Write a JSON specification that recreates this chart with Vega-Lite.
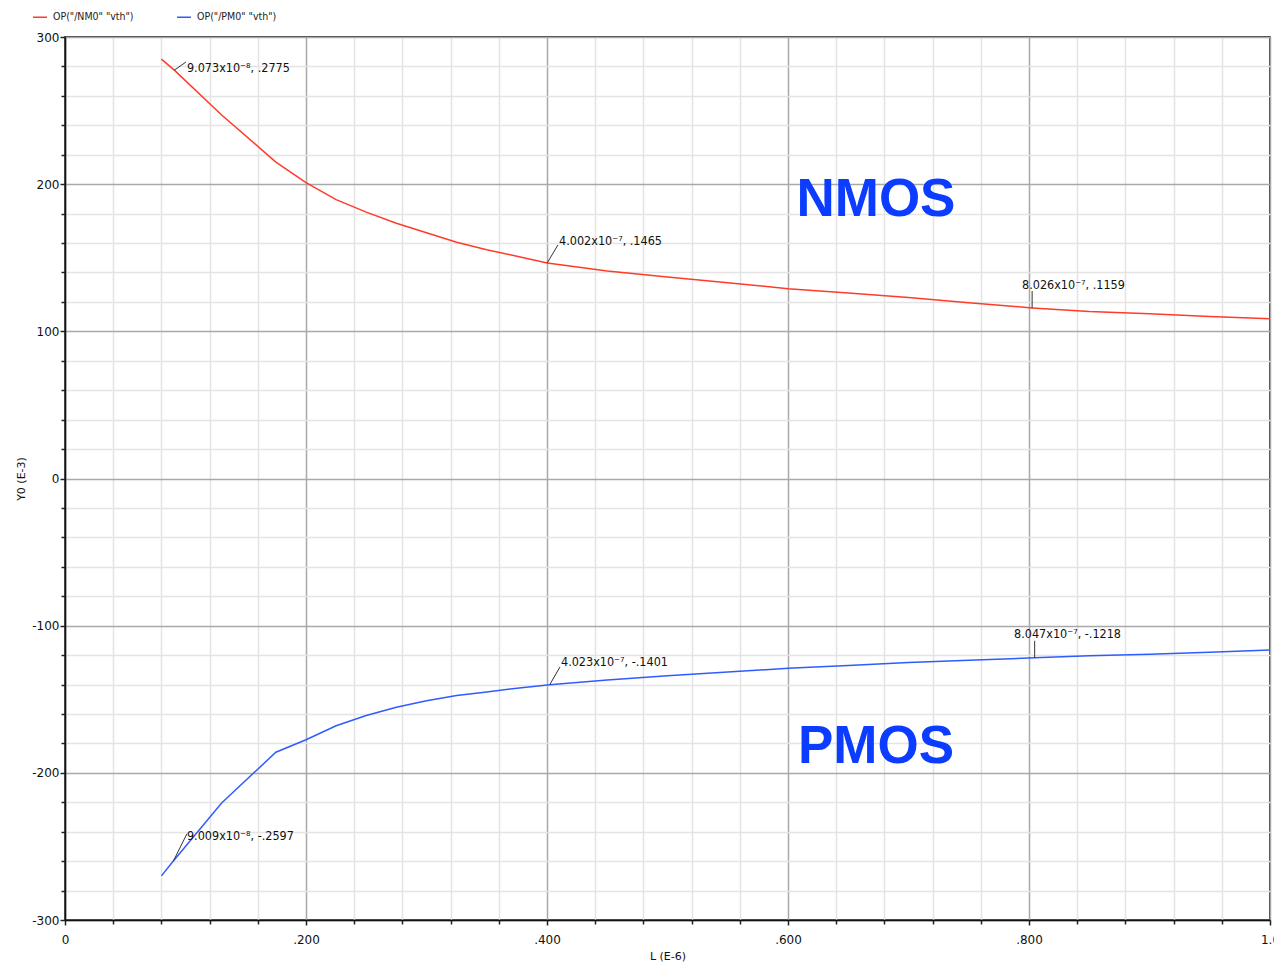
{
  "$schema": "https://vega.github.io/schema/vega-lite/v6.json",
  "width": 1205,
  "height": 883,
  "autosize": {"type": "none"},
  "padding": {"left": 65, "top": 37, "right": 4, "bottom": 45},
  "background": "white",
  "config": {
    "view": {"stroke": "black", "strokeWidth": 1.5},
    "font": "DejaVu Sans",
    "axis": {"labelFont": "DejaVu Sans", "titleFont": "DejaVu Sans", "labelColor": "#111", "titleColor": "#111", "titleFontWeight": "normal"}
  },
  "datasets": {
    "curves": [
      {"L": 0.08, "vth": 285, "series": "OP(\"/NM0\" \"vth\")"},
      {"L": 0.09073, "vth": 277.5, "series": "OP(\"/NM0\" \"vth\")"},
      {"L": 0.13, "vth": 247, "series": "OP(\"/NM0\" \"vth\")"},
      {"L": 0.175, "vth": 215, "series": "OP(\"/NM0\" \"vth\")"},
      {"L": 0.2, "vth": 201, "series": "OP(\"/NM0\" \"vth\")"},
      {"L": 0.225, "vth": 189.5, "series": "OP(\"/NM0\" \"vth\")"},
      {"L": 0.25, "vth": 181, "series": "OP(\"/NM0\" \"vth\")"},
      {"L": 0.275, "vth": 173.5, "series": "OP(\"/NM0\" \"vth\")"},
      {"L": 0.3, "vth": 167, "series": "OP(\"/NM0\" \"vth\")"},
      {"L": 0.325, "vth": 160.5, "series": "OP(\"/NM0\" \"vth\")"},
      {"L": 0.35, "vth": 155.5, "series": "OP(\"/NM0\" \"vth\")"},
      {"L": 0.375, "vth": 151, "series": "OP(\"/NM0\" \"vth\")"},
      {"L": 0.4002, "vth": 146.5, "series": "OP(\"/NM0\" \"vth\")"},
      {"L": 0.45, "vth": 141, "series": "OP(\"/NM0\" \"vth\")"},
      {"L": 0.5, "vth": 137, "series": "OP(\"/NM0\" \"vth\")"},
      {"L": 0.55, "vth": 133, "series": "OP(\"/NM0\" \"vth\")"},
      {"L": 0.6, "vth": 129, "series": "OP(\"/NM0\" \"vth\")"},
      {"L": 0.65, "vth": 126, "series": "OP(\"/NM0\" \"vth\")"},
      {"L": 0.7, "vth": 123, "series": "OP(\"/NM0\" \"vth\")"},
      {"L": 0.75, "vth": 119.5, "series": "OP(\"/NM0\" \"vth\")"},
      {"L": 0.8026, "vth": 115.9, "series": "OP(\"/NM0\" \"vth\")"},
      {"L": 0.85, "vth": 113.5, "series": "OP(\"/NM0\" \"vth\")"},
      {"L": 0.9, "vth": 112, "series": "OP(\"/NM0\" \"vth\")"},
      {"L": 0.95, "vth": 110, "series": "OP(\"/NM0\" \"vth\")"},
      {"L": 1.0, "vth": 108.5, "series": "OP(\"/NM0\" \"vth\")"},
      {"L": 0.08, "vth": -270, "series": "OP(\"/PM0\" \"vth\")"},
      {"L": 0.09009, "vth": -259.7, "series": "OP(\"/PM0\" \"vth\")"},
      {"L": 0.13, "vth": -220.5, "series": "OP(\"/PM0\" \"vth\")"},
      {"L": 0.175, "vth": -186, "series": "OP(\"/PM0\" \"vth\")"},
      {"L": 0.2, "vth": -177.5, "series": "OP(\"/PM0\" \"vth\")"},
      {"L": 0.225, "vth": -168, "series": "OP(\"/PM0\" \"vth\")"},
      {"L": 0.25, "vth": -161, "series": "OP(\"/PM0\" \"vth\")"},
      {"L": 0.275, "vth": -155.5, "series": "OP(\"/PM0\" \"vth\")"},
      {"L": 0.3, "vth": -151, "series": "OP(\"/PM0\" \"vth\")"},
      {"L": 0.325, "vth": -147.5, "series": "OP(\"/PM0\" \"vth\")"},
      {"L": 0.35, "vth": -145, "series": "OP(\"/PM0\" \"vth\")"},
      {"L": 0.375, "vth": -142.5, "series": "OP(\"/PM0\" \"vth\")"},
      {"L": 0.4023, "vth": -140.1, "series": "OP(\"/PM0\" \"vth\")"},
      {"L": 0.45, "vth": -137, "series": "OP(\"/PM0\" \"vth\")"},
      {"L": 0.5, "vth": -134, "series": "OP(\"/PM0\" \"vth\")"},
      {"L": 0.55, "vth": -131.5, "series": "OP(\"/PM0\" \"vth\")"},
      {"L": 0.6, "vth": -129, "series": "OP(\"/PM0\" \"vth\")"},
      {"L": 0.65, "vth": -127, "series": "OP(\"/PM0\" \"vth\")"},
      {"L": 0.7, "vth": -125, "series": "OP(\"/PM0\" \"vth\")"},
      {"L": 0.75, "vth": -123.5, "series": "OP(\"/PM0\" \"vth\")"},
      {"L": 0.8047, "vth": -121.8, "series": "OP(\"/PM0\" \"vth\")"},
      {"L": 0.85, "vth": -120.5, "series": "OP(\"/PM0\" \"vth\")"},
      {"L": 0.9, "vth": -119.5, "series": "OP(\"/PM0\" \"vth\")"},
      {"L": 0.95, "vth": -118, "series": "OP(\"/PM0\" \"vth\")"},
      {"L": 1.0, "vth": -116.5, "series": "OP(\"/PM0\" \"vth\")"}
    ],
    "markers": [
      {"L": 0.09073, "vth": 277.5, "tipL": 0.1004, "tipVth": 283, "textL": 0.1012, "textVth": 278.9, "label": "9.073x10⁻⁸, .2775"},
      {"L": 0.4002, "vth": 146.5, "tipL": 0.4091, "tipVth": 158.7, "textL": 0.41, "textVth": 161.4, "label": "4.002x10⁻⁷, .1465"},
      {"L": 0.8026, "vth": 115.9, "tipL": 0.8026, "tipVth": 127.4, "textL": 0.7942, "textVth": 131.5, "label": "8.026x10⁻⁷, .1159"},
      {"L": 0.4023, "vth": -140.1, "tipL": 0.4108, "tipVth": -128, "textL": 0.4116, "textVth": -124.6, "label": "4.023x10⁻⁷, -.1401"},
      {"L": 0.8047, "vth": -121.8, "tipL": 0.8047, "tipVth": -110.3, "textL": 0.7876, "textVth": -105.6, "label": "8.047x10⁻⁷, -.1218"},
      {"L": 0.09009, "vth": -259.7, "tipL": 0.1012, "tipVth": -241.4, "textL": 0.1012, "textVth": -242.8, "label": "9.009x10⁻⁸, -.2597"}
    ],
    "devices": [
      {"L": 0.673, "vth": 189.3, "name": "NMOS"},
      {"L": 0.673, "vth": -182.3, "name": "PMOS"}
    ]
  },
  "resolve": {"axis": {"x": "independent", "y": "independent"}},
  "layer": [
    {
      "data": {"name": "curves"},
      "mark": {"type": "line", "strokeWidth": 1.5, "interpolate": "linear"},
      "encoding": {
        "x": {
          "field": "L", "type": "quantitative",
          "scale": {"domain": [0, 1], "nice": false, "zero": false},
          "axis": {
            "orient": "bottom", "title": null, "labels": false, "domain": false,
            "values": [0.04, 0.08, 0.12, 0.16, 0.24, 0.28, 0.32, 0.36, 0.44, 0.48, 0.52, 0.56, 0.64, 0.68, 0.72, 0.76, 0.84, 0.88, 0.92, 0.96],
            "ticks": true, "tickSize": 4, "tickColor": "#222", "tickWidth": 1.5,
            "grid": true, "gridColor": "#e4e4e4", "gridWidth": 1.5
          }
        },
        "y": {
          "field": "vth", "type": "quantitative",
          "scale": {"domain": [-300, 300], "nice": false, "zero": false},
          "axis": {
            "orient": "left", "title": null, "labels": false, "domain": false,
            "values": [-280, -260, -240, -220, -180, -160, -140, -120, -80, -60, -40, -20, 20, 40, 60, 80, 120, 140, 160, 180, 220, 240, 260, 280],
            "ticks": true, "tickSize": 4, "tickColor": "#222", "tickWidth": 1.5,
            "grid": true, "gridColor": "#e4e4e4", "gridWidth": 1.5
          }
        },
        "color": {
          "field": "series", "type": "nominal",
          "scale": {"domain": ["OP(\"/NM0\" \"vth\")", "OP(\"/PM0\" \"vth\")"], "range": ["#ff3b2a", "#2f5cff"]},
          "legend": {
            "orient": "none", "legendX": -33, "legendY": -28, "direction": "horizontal",
            "title": null, "symbolType": "stroke", "symbolSize": 196, "symbolStrokeWidth": 1.5,
            "labelFont": "DejaVu Sans Condensed, Liberation Sans Narrow, DejaVu Sans", "labelFontSize": 10.5, "labelColor": "#222",
            "labelOffset": 5, "columnPadding": 40, "padding": 0
          }
        }
      }
    },
    {
      "data": {"name": "markers"},
      "mark": {"type": "rule", "color": "#333", "strokeWidth": 1},
      "encoding": {
        "x": {
          "field": "L", "type": "quantitative",
          "scale": {"domain": [0, 1], "nice": false, "zero": false},
          "axis": {
            "orient": "bottom", "title": "L (E-6)", "titleFontSize": 11, "titlePadding": 5,
            "values": [0, 0.2, 0.4, 0.6, 0.8, 1.0],
            "labelExpr": "datum.value == 0 ? '0' : datum.value == 1 ? '1.0' : '.' + format(datum.value * 1000, 'd')",
            "labelFontSize": 12, "labelPadding": 9, "labelOverlap": false, "labelFlush": false,
            "domain": true, "domainColor": "#111", "domainWidth": 1.5,
            "ticks": true, "tickSize": 5, "tickColor": "#222", "tickWidth": 1.5,
            "grid": true, "gridColor": "#a9a9a9", "gridWidth": 1.5
          }
        },
        "y": {
          "field": "vth", "type": "quantitative",
          "scale": {"domain": [-300, 300], "nice": false, "zero": false},
          "axis": {
            "orient": "left", "title": "Y0 (E-3)", "titleFontSize": 11, "titlePadding": 5,
            "values": [-300, -200, -100, 0, 100, 200, 300],
            "labelExpr": "'' + datum.value",
            "labelFontSize": 12, "labelPadding": 1, "labelOverlap": false, "labelFlush": false,
            "domain": true, "domainColor": "#111", "domainWidth": 1.5,
            "ticks": true, "tickSize": 5, "tickColor": "#222", "tickWidth": 1.5,
            "grid": true, "gridColor": "#a9a9a9", "gridWidth": 1.5
          }
        },
        "x2": {"field": "tipL"},
        "y2": {"field": "tipVth"}
      }
    },
    {
      "data": {"name": "markers"},
      "mark": {"type": "text", "align": "left", "baseline": "middle", "font": "DejaVu Sans Condensed, Liberation Sans Narrow, DejaVu Sans", "fontSize": 12.5, "color": "#111"},
      "encoding": {
        "x": {"field": "textL", "type": "quantitative", "scale": {"domain": [0, 1], "nice": false, "zero": false}, "axis": null},
        "y": {"field": "textVth", "type": "quantitative", "scale": {"domain": [-300, 300], "nice": false, "zero": false}, "axis": null},
        "text": {"field": "label"}
      }
    },
    {
      "data": {"name": "devices"},
      "mark": {"type": "text", "align": "center", "baseline": "middle", "font": "Liberation Sans", "fontWeight": "bold", "fontSize": 53, "color": "#0b3cff"},
      "encoding": {
        "x": {"field": "L", "type": "quantitative", "scale": {"domain": [0, 1], "nice": false, "zero": false}, "axis": null},
        "y": {"field": "vth", "type": "quantitative", "scale": {"domain": [-300, 300], "nice": false, "zero": false}, "axis": null},
        "text": {"field": "name"}
      }
    }
  ]
}
